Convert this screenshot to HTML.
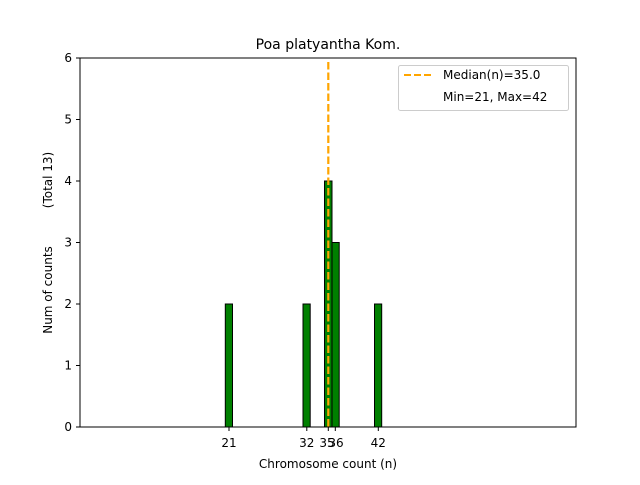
<!DOCTYPE html><html><head><style>body{margin:0;background:#fff}</style></head><body>
<svg width="640" height="480" xmlns="http://www.w3.org/2000/svg" font-family="DejaVu Sans, sans-serif" font-size="12">
<rect width="640" height="480" fill="#fff"/>
<text x="328" y="49" text-anchor="middle" font-size="14">Poa platyantha Kom.</text>
<g fill="#008000" stroke="#000" stroke-width="1">
<rect x="225.3" y="304" width="7.2" height="123"/>
<rect x="303" y="304" width="7.2" height="123"/>
<rect x="324.5" y="181" width="7.5" height="246"/>
<rect x="332" y="242.5" width="7.2" height="184.5"/>
<rect x="374.5" y="304" width="7.2" height="123"/>
</g>
<line x1="80" y1="427" x2="402" y2="427" stroke="#000"/>
<line x1="328.3" y1="62" x2="328.3" y2="427" stroke="#FFA500" stroke-width="2.2" stroke-dasharray="7.5,3"/>
<rect x="80" y="58" width="496" height="369" fill="none" stroke="#000"/>
<g stroke="#000">
<line x1="80" y1="427" x2="76" y2="427"/><line x1="80" y1="365.5" x2="76" y2="365.5"/><line x1="80" y1="304" x2="76" y2="304"/><line x1="80" y1="242.5" x2="76" y2="242.5"/><line x1="80" y1="181" x2="76" y2="181"/><line x1="80" y1="119.5" x2="76" y2="119.5"/><line x1="80" y1="58" x2="76" y2="58"/>
<line x1="229" y1="427" x2="229" y2="431"/><line x1="306.8" y1="427" x2="306.8" y2="431"/><line x1="328.3" y1="427" x2="328.3" y2="431"/><line x1="335.3" y1="427" x2="335.3" y2="431"/><line x1="378.3" y1="427" x2="378.3" y2="431"/>
</g>
<g text-anchor="end">
<text x="72" y="431">0</text><text x="72" y="369.5">1</text><text x="72" y="308">2</text><text x="72" y="246.5">3</text><text x="72" y="185">4</text><text x="72" y="123.5">5</text><text x="72" y="62">6</text>
</g>
<g text-anchor="middle">
<text x="229" y="447">21</text><text x="306.8" y="447">32</text><text x="327" y="447">35</text><text x="336" y="447">36</text><text x="378.3" y="447">42</text>
<text x="328" y="468">Chromosome count (n)</text>
</g>
<text transform="translate(52,290) rotate(-90)" text-anchor="middle">Num of counts</text>
<text transform="translate(52,180) rotate(-90)" text-anchor="middle">(Total 13)</text>
<rect x="398.5" y="65.5" width="170" height="45" rx="2" fill="#fff" stroke="#ccc"/>
<line x1="404" y1="75" x2="432" y2="75" stroke="#FFA500" stroke-width="2" stroke-dasharray="7,3"/>
<text x="443" y="79">Median(n)=35.0</text>
<text x="443" y="101">Min=21, Max=42</text>
</svg>
</body></html>
